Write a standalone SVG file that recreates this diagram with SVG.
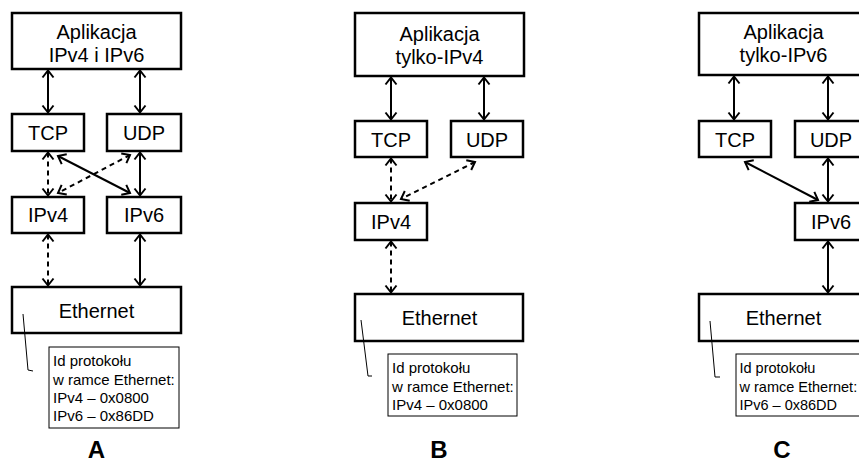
<svg xmlns="http://www.w3.org/2000/svg" width="859" height="463" viewBox="0 0 859 463">
<defs>
<marker id="ah" viewBox="-9 -7 11 14" refX="0" refY="0" markerWidth="11" markerHeight="14" markerUnits="userSpaceOnUse" orient="auto-start-reverse">
<path d="M-7,-5.5 L0,0 L-7,5.5" fill="none" stroke="#000" stroke-width="2"/>
</marker>
<style>
.box{fill:#fff;stroke:#000;stroke-width:2.5}
.note{fill:#fff;stroke:#000;stroke-width:1}
.t{font-family:"Liberation Sans",Arial,sans-serif;font-size:20px;text-anchor:middle;fill:#000}
.n{font-family:"Liberation Sans",Arial,sans-serif;font-size:15px;fill:#000}
.nc{font-family:"Liberation Sans",Arial,sans-serif;font-size:14.5px;fill:#000}
.lbl{font-family:"Liberation Sans",Arial,sans-serif;font-size:24px;font-weight:bold;text-anchor:middle;fill:#000}
.a{stroke:#000;stroke-width:2;fill:none;marker-start:url(#ah);marker-end:url(#ah)}
.d{stroke-dasharray:5,4}
.co{stroke:#000;stroke-width:1;fill:none}
</style>
</defs>
<rect width="859" height="463" fill="#fff"/>

<!-- Panel A -->
<g id="A-app"><rect class="box" x="12" y="13" width="169" height="56"/><text class="t" x="96.5" y="39">Aplikacja</text><text class="t" x="96.5" y="62">IPv4 i IPv6</text></g>
<g id="A-tcp"><rect class="box" x="12" y="114" width="72" height="37"/><text class="t" x="48" y="140">TCP</text></g>
<g id="A-udp"><rect class="box" x="107" y="114" width="74" height="37"/><text class="t" x="144" y="140">UDP</text></g>
<g id="A-ipv4"><rect class="box" x="12" y="197" width="72" height="36"/><text class="t" x="48" y="222">IPv4</text></g>
<g id="A-ipv6"><rect class="box" x="107" y="197" width="74" height="36"/><text class="t" x="144" y="222">IPv6</text></g>
<g id="A-eth"><rect class="box" x="12" y="287" width="169" height="46"/><text class="t" x="96.5" y="318">Ethernet</text></g>
<g id="A-note"><rect class="note" x="49" y="347" width="130" height="81"/>
<text class="n" x="53" y="366">Id protokołu</text><text class="n" x="53" y="385">w ramce Ethernet:</text><text class="n" x="53" y="403">IPv4 – 0x0800</text><text class="n" x="53" y="421">IPv6 – 0x86DD</text></g>
<text class="lbl" x="96.5" y="458">A</text>

<!-- Panel B -->
<g id="B-app"><rect class="box" x="355" y="13" width="169" height="63"/><text class="t" x="439.5" y="41">Aplikacja</text><text class="t" x="439.5" y="64">tylko-IPv4</text></g>
<g id="B-tcp"><rect class="box" x="355" y="121" width="72" height="36"/><text class="t" x="391" y="147">TCP</text></g>
<g id="B-udp"><rect class="box" x="451" y="121" width="72" height="36"/><text class="t" x="487" y="147">UDP</text></g>
<g id="B-ipv4"><rect class="box" x="355" y="203" width="72" height="37"/><text class="t" x="391" y="229">IPv4</text></g>
<g id="B-eth"><rect class="box" x="355" y="294" width="168" height="47"/><text class="t" x="439.5" y="325">Ethernet</text></g>
<g id="B-note"><rect class="note" x="388" y="354" width="129" height="62"/>
<text class="n" x="392" y="373">Id protokołu</text><text class="n" x="392" y="392">w ramce Ethernet:</text><text class="n" x="392" y="410">IPv4 – 0x0800</text></g>
<text class="lbl" x="439" y="458">B</text>

<!-- Panel C -->
<g id="C-app"><rect class="box" x="699" y="13" width="169" height="62"/><text class="t" x="783.5" y="39">Aplikacja</text><text class="t" x="783.5" y="62">tylko-IPv6</text></g>
<g id="C-tcp"><rect class="box" x="699" y="121" width="72" height="36"/><text class="t" x="735" y="147">TCP</text></g>
<g id="C-udp"><rect class="box" x="795" y="121" width="72" height="36"/><text class="t" x="831" y="147">UDP</text></g>
<g id="C-ipv6"><rect class="box" x="795" y="203" width="72" height="37"/><text class="t" x="831" y="229">IPv6</text></g>
<g id="C-eth"><rect class="box" x="699" y="294" width="168" height="47"/><text class="t" x="783.5" y="325">Ethernet</text></g>
<g id="C-note"><rect class="note" x="736" y="354" width="129" height="62"/>
<text class="nc" x="739.5" y="373">Id protokołu</text><text class="nc" x="739.5" y="392">w ramce Ethernet:</text><text class="nc" x="739.5" y="410">IPv6 – 0x86DD</text></g>
<text class="lbl" x="782" y="458">C</text>

<!-- Connectors -->
<g id="connectors">
<line class="a" x1="48" y1="70.5" x2="48" y2="112.5"/>
<line class="a" x1="140" y1="70.5" x2="140" y2="112.5"/>
<line class="a d" x1="48" y1="152.5" x2="48" y2="195.5"/>
<line class="a" x1="140" y1="152.5" x2="140" y2="195.5"/>
<line class="a" x1="58" y1="156" x2="130" y2="193"/>
<line class="a d" x1="130" y1="155" x2="58" y2="193"/>
<line class="a d" x1="48" y1="234.5" x2="48" y2="285.5"/>
<line class="a" x1="140" y1="234.5" x2="140" y2="285.5"/>
<polyline class="co" points="23,314 28,370 33,371"/>

<line class="a" x1="391" y1="77.5" x2="391" y2="119.5"/>
<line class="a" x1="484" y1="77.5" x2="484" y2="119.5"/>
<line class="a d" x1="391" y1="158.5" x2="391" y2="201.5"/>
<line class="a d" x1="475" y1="162" x2="401" y2="199"/>
<line class="a d" x1="391" y1="241.5" x2="391" y2="292.5"/>
<polyline class="co" points="361,320 368,376 372,376"/>

<line class="a" x1="734" y1="76.5" x2="734" y2="119.5"/>
<line class="a" x1="828" y1="76.5" x2="828" y2="119.5"/>
<line class="a" x1="828" y1="158.5" x2="828" y2="201.5"/>
<line class="a" x1="745" y1="162" x2="818" y2="200"/>
<line class="a" x1="828" y1="241.5" x2="828" y2="292.5"/>
<polyline class="co" points="710,321 715,377 720,377"/>
</g>
</svg>
